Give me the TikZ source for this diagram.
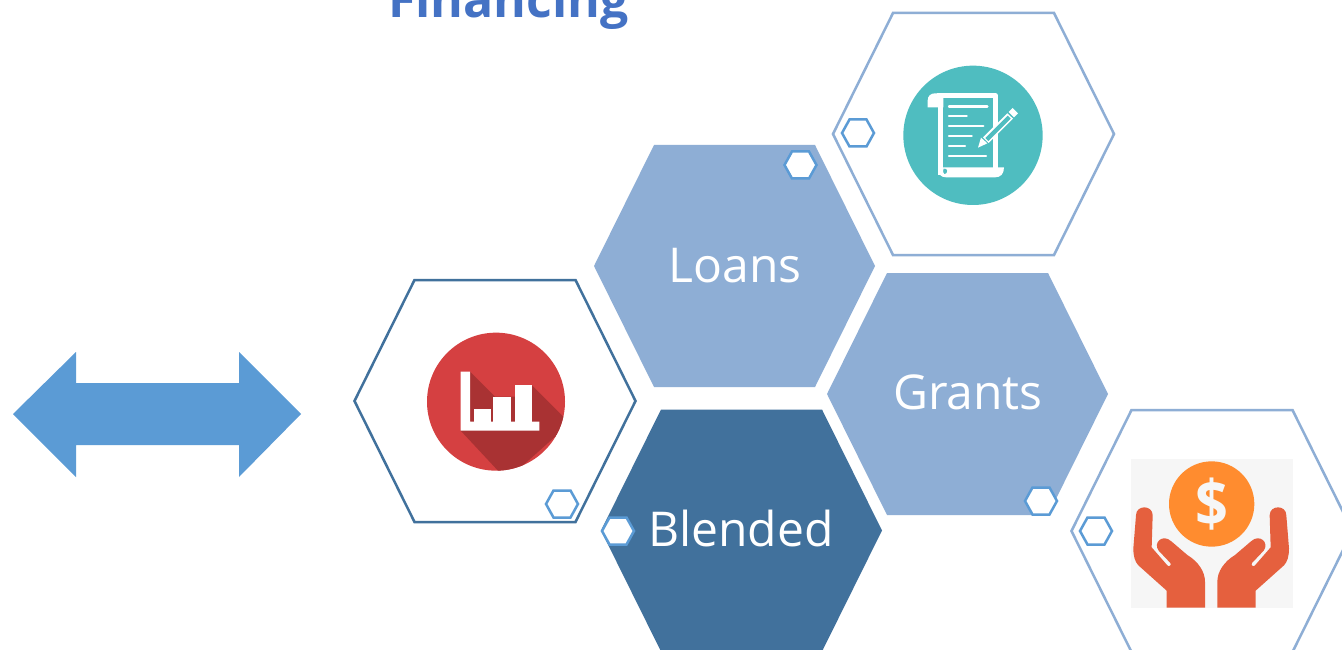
\documentclass[tikz,border=0pt]{standalone}
\usepackage{fontspec}
\setmainfont{Open Sans}
\definecolor{arrowblue}{HTML}{5B9BD5}
\definecolor{lightblue}{HTML}{8EAED5}
\definecolor{darkblue}{HTML}{41719C}
\definecolor{titleblue}{HTML}{4472C4}
\definecolor{teal}{HTML}{4FBDC0}
\definecolor{redc}{HTML}{D54041}
\definecolor{redd}{HTML}{A93233}
\definecolor{orangec}{HTML}{FF8C2F}
\definecolor{handc}{HTML}{E5603E}
\definecolor{iconbg}{HTML}{F6F6F6}
\newcommand{\hexpath}[2]{(#1-140.5,#2) -- (#1-80.5,#2-121) -- (#1+80.5,#2-121) -- (#1+140.5,#2) -- (#1+80.5,#2+121) -- (#1-80.5,#2+121) -- cycle}
\newcommand{\minihex}[2]{\draw[minihexstyle] (#1-16,#2) -- (#1-8.5,#2-13.5) -- (#1+8.5,#2-13.5) -- (#1+16,#2) -- (#1+8.5,#2+13.5) -- (#1-8.5,#2+13.5) -- cycle;}
\newcommand{\handpath}{\fill[handc] (78,226) .. controls (78,194) and (128,194) .. (128,226)
  -- (125,322) -- (172,376) .. controls (176,382) and (186,376) .. (181,369)
  -- (146,332) .. controls (128,308) and (158,280) .. (184,304)
  -- (232,345) .. controls (265,365) and (285,395) .. (285,425)
  -- (285,503) -- (170,503) -- (170,452) -- (85,376)
  .. controls (75,365) and (70,350) .. (70,325) -- cycle;}
\tikzset{
  hexline/.style={fill=white,draw=lightblue,line width=2.5pt},
  hexlinedark/.style={fill=white,draw=darkblue,line width=2.5pt},
  minihexstyle/.style={fill=white,draw=arrowblue,line width=2.5pt},
  hexlabel/.style={text=white,font=\fontsize{48}{48}\selectfont,anchor=base,inner sep=0pt},
  barline/.style={white,line width=2.4pt,line cap=round},
}
\begin{document}
\begin{tikzpicture}[x=1pt,y=-1pt]
\useasboundingbox (0,0) rectangle (1342,650);
\clip (0,0) rectangle (1342,650);
\fill[white] (0,0) rectangle (1342,650);

\node[anchor=base west,inner sep=0pt,text=titleblue,font=\fontsize{50}{50}\selectfont\bfseries] (title) at (388,18) {Financing};

% double arrow
\fill[arrowblue] (13,414) -- (76,352) -- (76,383) -- (239,383) -- (239,352) -- (301,414) -- (239,477) -- (239,445) -- (76,445) -- (76,477) -- cycle;

% hexagons
\draw[hexline] \hexpath{973.5}{134};
\fill[lightblue] \hexpath{734.5}{266};
\fill[lightblue] \hexpath{967.5}{394};
\fill[darkblue] \hexpath{741.5}{530.5};
\draw[hexlinedark] \hexpath{495}{401};
\draw[hexline] \hexpath{1212}{531};

% labels
\node[hexlabel] (loans) at (735,282) {Loans};
\node[hexlabel] (grants) at (968,409) {Grants};
\node[hexlabel] (blended) at (741,546) {Blended};

% mini hexagons
\minihex{800.5}{165}
\minihex{858}{133}
\minihex{562}{504}
\minihex{618}{531}
\minihex{1041}{501}
\minihex{1096}{531}

% scroll icon
\begin{scope}[shift={(880,50)},scale=1/3]
\fill[teal] (279,256) circle (209);
\draw[white,line width=4.4pt,line join=round] (170,137) -- (347,137) -- (347,360);
\fill[white] (165,130) -- (190,130) -- (190,172) -- (143,172) -- (143,152) .. controls (143,138) and (152,130) .. (165,130) -- cycle;
\fill[white] (175,140) rectangle (190,375);
\fill[white] (185,352) -- (372,352) .. controls (372,372) and (362,382) .. (345,382) -- (198,382) .. controls (182,382) and (175,372) .. (175,355) -- cycle;
\fill[teal] (191,356) .. controls (204,352) and (204,372) .. (194,372) .. controls (190,372) and (188,365) .. (191,356) -- cycle;
\foreach \ya/\xb in {170/322,198/260,228/310,258/275,288/255,318/318}
  \draw[barline] (207,\ya) -- (\xb,\ya);
\fill[white] (294,293) -- (303,263) -- (322,280) -- cycle;
\fill[white] (309,262) -- (382,190) -- (399,206) -- (326,279) -- cycle;
\fill[teal] (316,264) -- (383,197) -- (392,206) -- (325,273) -- cycle;
\fill[white] (386,186) -- (398,174) -- (414,190) -- (402,202) -- cycle;
\end{scope}

% chart icon
\begin{scope}[shift={(410,320)},scale=1/3]
\fill[redc] (258,245) circle (207);
\begin{scope}
\clip (258,245) circle (207);
\fill[redd] (180,155) -- (255,230) -- (315,230) -- (315,195) -- (365,195) -- (480,310) -- (290,480) -- (152,332) -- cycle;
\end{scope}
\fill[white] (152,155) -- (180,155) -- (180,305) -- (388,305) -- (388,332) -- (152,332) -- cycle;
\fill[white] (192,268) rectangle (242,310);
\fill[white] (250,230) rectangle (302,310);
\fill[white] (315,195) rectangle (365,310);
\end{scope}

% hands icon
\begin{scope}[shift={(1110,440)},scale=1/3]
\fill[iconbg] (62,57) rectangle (548,505);
\fill[orangec] (305,192) circle (128);
\node[text=iconbg,font=\fontsize{64}{64}\selectfont\bfseries,inner sep=0pt,xscale=0.9] (dollar) at (305,192) {\$};
\handpath
\begin{scope}[shift={(607,0)},xscale=-1]
\handpath
\end{scope}
\end{scope}
\end{tikzpicture}
\end{document}
